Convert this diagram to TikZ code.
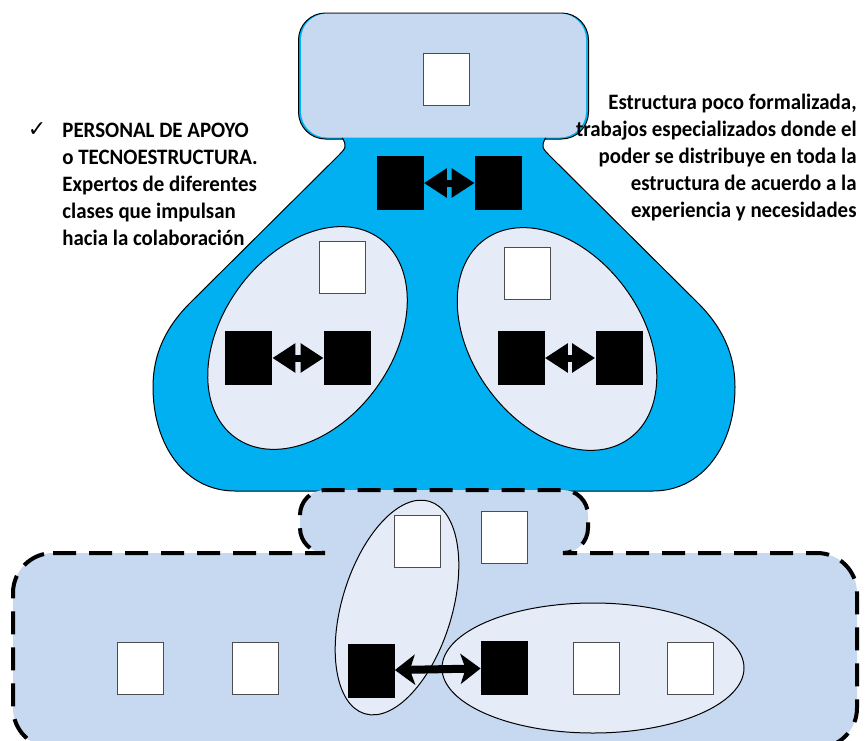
\documentclass[tikz,border=0pt]{standalone}
\usepackage{fontspec}
\setmainfont{Carlito}[FakeStretch=0.95]
\newfontfamily\symfont{DejaVu Sans}
\usetikzlibrary{arrows.meta, positioning}

\definecolor{skyblue}{RGB}{0,176,240}
\definecolor{paleblue}{RGB}{198,217,241}
\definecolor{lightfill}{RGB}{230,236,247}

\begin{document}
\begin{tikzpicture}[
    x=0.5pt, y=-0.5pt,
    every node/.style={font=\fontsize{11}{13.5}\selectfont\bfseries},
    wsq/.style={rectangle, draw=black!70, fill=white, line width=0.5pt, inner sep=0pt, minimum width=23pt, minimum height=26pt},
    bsq/.style={rectangle, fill=black, inner sep=0pt, minimum width=23.5pt, minimum height=27pt},
    group/.style={draw=black, fill=lightfill, line width=0.5pt},
    twoway/.style={{Triangle[length=11.5pt,width=14pt]}-{Triangle[length=11.5pt,width=14pt]}, line width=3.5pt},
    link/.style={{Stealth[length=10pt,width=15pt,inset=2.5pt]}-{Stealth[length=10pt,width=15pt,inset=2.5pt]}, line width=4pt},
    dashline/.style={draw=black, line width=2pt, dash pattern=on 11.5pt off 6.5pt}
]
\useasboundingbox (0,0) rectangle (868,740);
\clip (0,0) rectangle (868,740);

% Adhocracy body
\draw[fill=skyblue, line width=0.5pt, rounded corners=13.5pt] (298.5,13) rectangle (588.5,139);
\draw[fill=skyblue, line width=0.5pt] (342,128) -- (342,137) .. controls (347,147) .. (336,158)
    -- (190,303) .. controls (165,328) and (153,355) .. (153,387)
    .. controls (153,445) and (185,491) .. (235,491) -- (653,491)
    .. controls (703,491) and (735,445) .. (735,387)
    .. controls (735,355) and (723,328) .. (698,303) -- (552,158)
    .. controls (541,147) .. (546,137) -- (546,128) -- cycle;
\fill[paleblue, rounded corners=13pt] (301,13.5) rectangle (586,137.5);
\draw[group, rotate around={-36:(307.5,338)}] (307.5,338) ellipse [x radius=85, y radius=123];
\draw[group, rotate around={36:(557,339)}] (557,339) ellipse [x radius=85, y radius=123];

% Operating core
\draw[dashline, fill=paleblue] (53,553) -- (325,553) arc[start angle=90, end angle=180, radius=25]
    -- (300,515) arc[start angle=180, end angle=270, radius=25]
    -- (563,490) arc[start angle=270, end angle=360, radius=25]
    -- (588,528) arc[start angle=0, end angle=90, radius=25]
    -- (817,553) arc[start angle=270, end angle=360, radius=40]
    -- (857,708) arc[start angle=0, end angle=90, radius=40]
    -- (53,748) arc[start angle=90, end angle=180, radius=40]
    -- (13,593) arc[start angle=180, end angle=270, radius=40] -- cycle;
\draw[group, rotate around={-17:(397,607.5)}] (397,607.5) ellipse [x radius=55, y radius=111];
\draw[group] (593,668) ellipse [x radius=151, y radius=65];

% Nodes
\node[wsq] (chief) at (446,79) {};
\node[bsq] (toplft) at (400,183) {};
\node[bsq] (toprgt) at (498.5,183) {};
\node[wsq] (lhead) at (342,267.5) {};
\node[bsq] (lfst) at (248.5,358) {};
\node[bsq] (lsnd) at (347.5,358) {};
\node[wsq] (rhead) at (527.5,273) {};
\node[bsq] (rfst) at (521,358) {};
\node[bsq] (rsnd) at (619,358) {};
\node[wsq] (midw1) at (417,541) {};
\node[wsq] (midw2) at (504,537.5) {};
\node[wsq] (op1) at (140,668) {};
\node[wsq] (op2) at (255.5,668) {};
\node[bsq] (opb1) at (371,670.5) {};
\node[bsq] (opb2) at (504.5,668) {};
\node[wsq] (op3) at (596,668) {};
\node[wsq] (op4) at (690,668) {};

\node[inner sep=0pt] (tick) at (37,130) {\symfont ✓};
\node[anchor=north west, align=left, inner sep=0pt] (apoyo) at (62,123) {PERSONAL DE APOYO\\o TECNOESTRUCTURA.\\Expertos de diferentes\\clases que impulsan\\hacia la colaboración};
\node[anchor=north east, align=right, inner sep=0pt] (nota) at (857,94) {Estructura poco formalizada,\\trabajos especializados donde el\\poder se distribuye en toda la\\estructura de acuerdo a la\\experiencia y necesidades};

% Arrows
\draw[twoway] (toplft) -- (toprgt);
\draw[twoway] (lfst) -- (lsnd);
\draw[twoway] (rfst) -- (rsnd);
\draw[link] (opb1) -- (opb2);

\end{tikzpicture}
\end{document}
